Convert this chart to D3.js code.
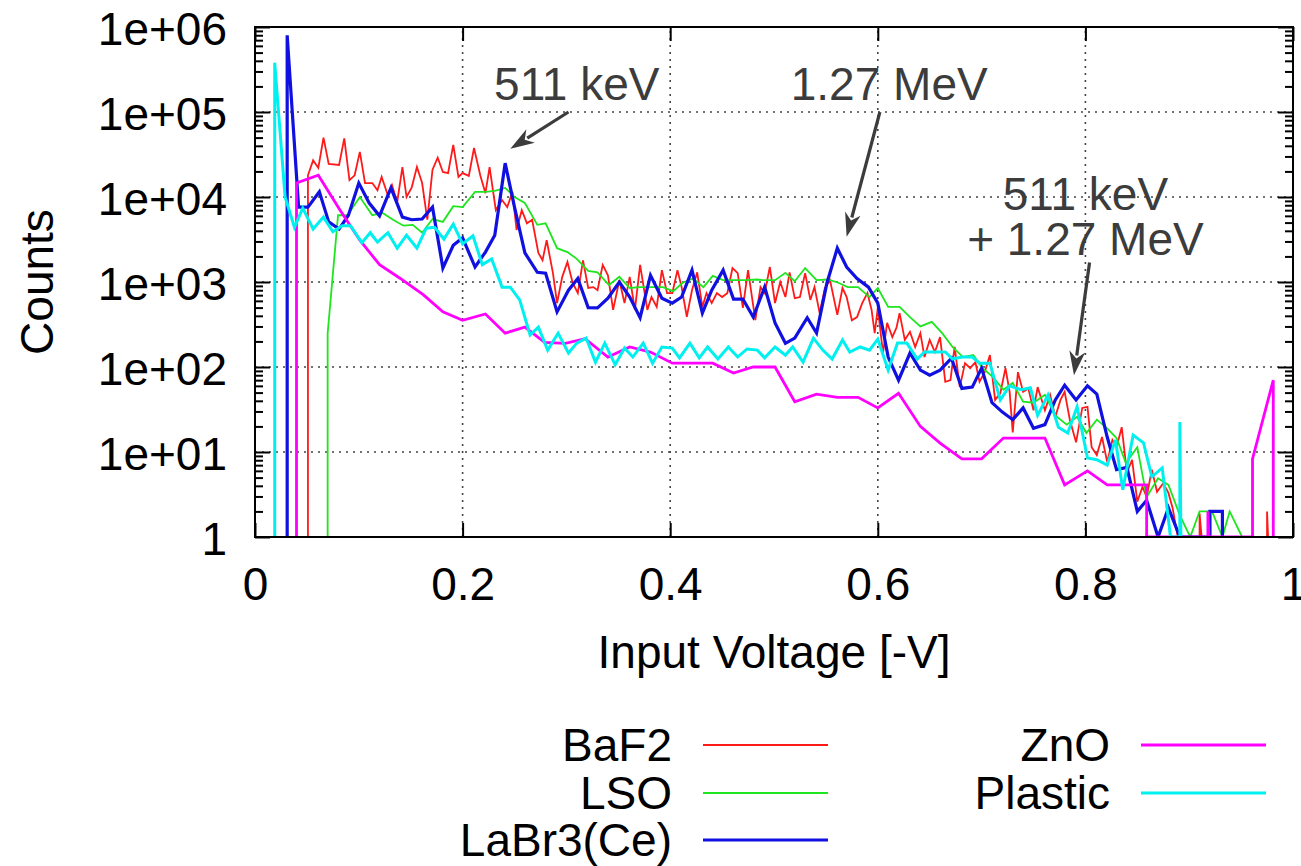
<!DOCTYPE html>
<html>
<head>
<meta charset="utf-8">
<script src="https://cdn.jsdelivr.net/npm/d3@7"></script>
<style>
  body { margin: 0; background: #fff; }
  svg text { font-family: "Liberation Sans", Arial, Helvetica, sans-serif; }
</style>
</head>
<body>
<svg id="chart" width="1301" height="866"></svg>
<script>
// [input voltage (-V), counts]
const baf2 = [[0.051,1],[0.051,18000],[0.056,27000],[0.061,22000],[0.066,50000],[0.071,24500],[0.081,23800],[0.086,49000],[0.091,15800],[0.096,18000],[0.101,34000],[0.106,14600],[0.113,14600],[0.118,12000],[0.122,17200],[0.128,10500],[0.132,13800],[0.137,8700],[0.142,22500],[0.146,10000],[0.151,13000],[0.156,22500],[0.161,14600],[0.166,5400],[0.171,21000],[0.176,29000],[0.181,19700],[0.186,19100],[0.191,41000],[0.196,17200],[0.200,19100],[0.206,17700],[0.211,37700],[0.217,18000],[0.222,11100],[0.226,22500],[0.232,7000],[0.238,9200],[0.243,7600],[0.248,11500],[0.252,4100],[0.257,7000],[0.262,4900],[0.267,5400],[0.273,2200],[0.277,1800],[0.281,3100],[0.287,1280],[0.291,565],[0.296,1150],[0.301,1720],[0.306,980],[0.311,740],[0.316,1800],[0.321,850],[0.326,870],[0.330,800],[0.335,1590],[0.340,1200],[0.345,470],[0.351,1050],[0.356,565],[0.361,1150],[0.366,470],[0.371,1590],[0.378,470],[0.382,665],[0.387,510],[0.392,1380],[0.397,740],[0.402,740],[0.407,1380],[0.411,870],[0.416,390],[0.421,800],[0.426,1300],[0.431,510],[0.435,740],[0.440,565],[0.445,740],[0.450,665],[0.455,740],[0.460,1460],[0.465,1270],[0.470,495],[0.475,1380],[0.482,355],[0.487,870],[0.491,740],[0.496,1500],[0.501,565],[0.506,1000],[0.511,665],[0.515,1300],[0.520,645],[0.525,665],[0.530,1270],[0.535,615],[0.539,870],[0.544,430],[0.549,850],[0.554,1050],[0.561,410],[0.566,850],[0.570,665],[0.575,355],[0.580,387],[0.585,565],[0.590,740],[0.594,470],[0.597,250],[0.600,495],[0.605,146],[0.609,330],[0.614,225],[0.618,290],[0.621,430],[0.626,208],[0.631,260],[0.636,172],[0.641,250],[0.645,131],[0.650,208],[0.655,150],[0.660,225],[0.665,67],[0.670,70],[0.674,172],[0.679,58],[0.684,111],[0.689,97],[0.694,114],[0.698,67],[0.703,87],[0.708,138],[0.713,41],[0.718,49],[0.723,97],[0.727,51],[0.730,17],[0.735,87],[0.740,51],[0.745,56],[0.750,31],[0.754,58],[0.761,31],[0.766,47],[0.771,26],[0.776,41],[0.780,51],[0.785,24],[0.791,13],[0.797,33],[0.802,34],[0.806,11.4],[0.811,9.2],[0.816,15],[0.821,7.6],[0.826,13.9],[0.830,11.4],[0.835,19.6],[0.840,5.7],[0.845,8.1],[0.850,2.6],[0.855,3.9],[0.859,2.95],[0.864,6.2],[0.869,3.4],[0.875,4.3],[0.880,3.3],[0.884,2.2],[0.889,1],[0.910,1],[0.910,1.9],[0.912,1],[0.975,1],[0.975,2],[0.976,1]];

const lso = [[0.070,1],[0.070,250],[0.080,6100],[0.089,6100],[0.101,10000],[0.113,6100],[0.123,6500],[0.133,5400],[0.143,4600],[0.152,4700],[0.161,3800],[0.171,5500],[0.181,5100],[0.191,7800],[0.200,7600],[0.212,11500],[0.222,11500],[0.231,11800],[0.241,12800],[0.250,10000],[0.260,8500],[0.272,4700],[0.280,4900],[0.291,2500],[0.301,2250],[0.310,1870],[0.321,1350],[0.330,1300],[0.341,920],[0.351,1150],[0.361,850],[0.371,870],[0.382,870],[0.393,870],[0.403,780],[0.412,980],[0.422,1100],[0.432,870],[0.441,1180],[0.451,1050],[0.461,1050],[0.472,1050],[0.484,1070],[0.489,1050],[0.501,1050],[0.511,1280],[0.520,1020],[0.530,1460],[0.541,1050],[0.552,1070],[0.562,980],[0.571,870],[0.581,870],[0.592,665],[0.600,850],[0.610,510],[0.621,510],[0.631,387],[0.641,300],[0.652,340],[0.662,250],[0.672,172],[0.682,131],[0.692,138],[0.701,97],[0.711,76],[0.721,54],[0.730,65],[0.740,39],[0.750,38],[0.761,47],[0.771,27],[0.782,21],[0.792,26],[0.801,16.7],[0.811,24],[0.821,19],[0.830,14.6],[0.839,7.4],[0.850,11.4],[0.859,2.95],[0.870,4.9],[0.880,4.1],[0.891,1.8],[0.901,1],[0.910,2],[0.922,2],[0.932,1],[0.939,2],[0.951,1]];

const labr3 = [[0.031,1],[0.031,800000],[0.042,7600],[0.051,7600],[0.062,11500],[0.071,5100],[0.081,4200],[0.090,6100],[0.100,14600],[0.110,8500],[0.120,6000],[0.131,12800],[0.142,5800],[0.151,5400],[0.161,5500],[0.171,7600],[0.181,1460],[0.191,2700],[0.200,3300],[0.212,1500],[0.222,2250],[0.231,3550],[0.241,25000],[0.250,7600],[0.260,2200],[0.272,1300],[0.280,1270],[0.291,445],[0.302,800],[0.311,1100],[0.321,500],[0.330,495],[0.340,645],[0.351,1000],[0.361,665],[0.371,380],[0.381,1200],[0.392,645],[0.402,565],[0.411,665],[0.421,1380],[0.431,430],[0.440,800],[0.451,1380],[0.461,630],[0.470,630],[0.480,387],[0.491,870],[0.501,330],[0.511,190],[0.520,219],[0.532,380],[0.541,251],[0.551,975],[0.561,2500],[0.570,1500],[0.580,1100],[0.591,870],[0.600,565],[0.610,131],[0.620,70],[0.631,146],[0.641,92],[0.650,80],[0.660,92],[0.671,127],[0.681,56],[0.691,58],[0.700,97],[0.710,38],[0.720,29.5],[0.730,24],[0.740,33],[0.750,19],[0.761,21],[0.771,41],[0.780,61],[0.791,41],[0.802,60],[0.811,48],[0.821,15],[0.830,6.2],[0.840,6.6],[0.850,2.0],[0.859,2.7],[0.870,1],[0.880,2.2],[0.891,1],[0.920,1],[0.920,2],[0.932,2],[0.932,1]];

const zno = [[0.040,1],[0.040,14600],[0.061,18000],[0.082,7000],[0.101,3100],[0.120,1600],[0.140,1100],[0.162,710],[0.181,445],[0.200,355],[0.222,420],[0.241,250],[0.260,295],[0.279,195],[0.299,190],[0.318,215],[0.340,131],[0.361,172],[0.381,150],[0.402,111],[0.422,111],[0.441,111],[0.461,85],[0.480,100],[0.501,100],[0.520,39],[0.541,48],[0.561,44],[0.581,44],[0.600,33],[0.620,49],[0.641,20],[0.660,12.7],[0.681,8.3],[0.700,8.3],[0.721,14.6],[0.761,14.6],[0.780,4.1],[0.802,6.0],[0.821,4.1],[0.859,4.1],[0.859,1],[0.918,1],[0.918,2],[0.919,1],[0.961,1],[0.961,8.3],[0.981,70],[0.981,1]];

const plastic = [[0.019,1],[0.019,380000],[0.029,10000],[0.038,4400],[0.046,7400],[0.056,4200],[0.066,5800],[0.075,3900],[0.084,4600],[0.092,4600],[0.103,2900],[0.111,3800],[0.118,2950],[0.128,3800],[0.137,2500],[0.146,3550],[0.156,2500],[0.165,4300],[0.173,4400],[0.182,3200],[0.191,4800],[0.200,2800],[0.210,3500],[0.219,1600],[0.228,1870],[0.238,870],[0.246,870],[0.255,615],[0.265,238],[0.273,295],[0.282,158],[0.292,250],[0.302,146],[0.310,191],[0.319,219],[0.328,114],[0.337,191],[0.347,106],[0.356,167],[0.364,131],[0.374,191],[0.383,111],[0.392,172],[0.402,167],[0.409,128],[0.419,191],[0.428,128],[0.436,172],[0.446,124],[0.456,172],[0.465,131],[0.474,163],[0.484,158],[0.491,128],[0.501,172],[0.511,138],[0.518,172],[0.528,114],[0.538,219],[0.547,158],[0.556,124],[0.566,208],[0.573,150],[0.583,172],[0.592,158],[0.600,213],[0.610,92],[0.619,191],[0.628,191],[0.638,124],[0.645,150],[0.655,150],[0.665,150],[0.672,124],[0.681,131],[0.691,131],[0.698,111],[0.708,111],[0.718,41],[0.727,60],[0.738,54],[0.747,57],[0.754,27],[0.764,47],[0.774,19.6],[0.783,16.7],[0.792,34],[0.802,8.5],[0.811,8.1],[0.821,7.0],[0.829,13.9],[0.836,3.6],[0.846,15.8],[0.856,12.8],[0.864,5.1],[0.874,6.5],[0.882,1],[0.891,1],[0.891,22.5],[0.892,1]];

const seriesNames = ["BaF2", "LSO", "LaBr3(Ce)", "ZnO", "Plastic"];
const seriesData = [baf2, lso, labr3, zno, plastic];
const seriesColors = ["#ff1a1a", "#1ee61e", "#1010e0", "#ff00ff", "#00f0f0"];
const seriesWidths = [1.8, 1.8, 3.2, 2.8, 3];

const xTicks = [0, 0.2, 0.4, 0.6, 0.8, 1];
const yTicks = [1, 10, 100, 1000, 10000, 100000, 1000000];
const yTickLabels = ["1", "1e+01", "1e+02", "1e+03", "1e+04", "1e+05", "1e+06"];

// annotation text (baseline point) and arrow [from, to], data coordinates
const notes = [
  { lines: ["511 keV"], at: [0.310, 140000], from: [0.302, 100000], to: [0.246, 37000] },
  { lines: ["1.27 MeV"], at: [0.611, 140000], from: [0.602, 100000], to: [0.570, 3400] },
  { lines: ["511 keV", "+ 1.27 MeV"], at: [0.800, 7000], from: [0.804, 1700], to: [0.789, 80] }
];

const svg = d3.select("#chart");
const fontSize = 46;
const x = d3.scaleLinear().domain([0, 1]).range([255, 1293]);
const y = d3.scaleLog().domain([1, 1e6]).range([537, 27]);

// grid
const grid = svg.append("g").attr("stroke", "#444").attr("stroke-width", 1.6).attr("stroke-dasharray", "2,5");
grid.selectAll(".gx").data(xTicks.slice(1, -1)).join("line")
  .attr("x1", d => x(d)).attr("x2", d => x(d)).attr("y1", y(1)).attr("y2", y(1e6));
grid.selectAll(".gy").data(yTicks.slice(1, -1)).join("line")
  .attr("y1", d => y(d)).attr("y2", d => y(d)).attr("x1", x(0)).attr("x2", x(1));

// series
svg.append("clipPath").attr("id", "plotclip").append("rect")
  .attr("x", x(0)).attr("y", y(1e6)).attr("width", x(1) - x(0)).attr("height", y(1) - y(1e6) + 1);
const line = d3.line().x(d => x(d[0])).y(d => y(Math.max(1, d[1])));
svg.append("g").attr("clip-path", "url(#plotclip)")
  .selectAll("path").data(seriesData).join("path")
  .attr("d", line)
  .attr("fill", "none")
  .attr("stroke", (d, i) => seriesColors[i])
  .attr("stroke-width", (d, i) => seriesWidths[i])
  .attr("stroke-linejoin", "miter");

// axes (gnuplot style, ticks pointing inward, mirrored)
const minorY = [];
for (let e = 0; e < 6; e++) for (let m = 2; m <= 9; m++) minorY.push(m * Math.pow(10, e));

function styleAxis(g) {
  g.select(".domain").remove();
  g.selectAll(".tick line").attr("stroke", "#000").attr("stroke-width", 2);
  g.selectAll("text").attr("fill", "#000").attr("font-size", fontSize);
}

svg.append("g").attr("transform", `translate(0,${y(1)})`)
  .call(d3.axisBottom(x).tickValues(xTicks).tickFormat(d3.format("")).tickSizeInner(-14).tickSizeOuter(0).tickPadding(0))
  .call(styleAxis)
  .call(g => g.selectAll("text").attr("y", 63).attr("dy", null));

svg.append("g").attr("transform", `translate(0,${y(1e6)})`)
  .call(d3.axisTop(x).tickValues(xTicks).tickFormat("").tickSizeInner(-14).tickSizeOuter(0))
  .call(styleAxis);

svg.append("g").attr("transform", `translate(${x(0)},0)`)
  .call(d3.axisLeft(y).tickValues(yTicks).tickFormat((d, i) => yTickLabels[i]).tickSizeInner(-15).tickSizeOuter(0).tickPadding(28))
  .call(styleAxis)
  .call(g => g.selectAll("text").attr("dy", "0.37em"));

svg.append("g").attr("transform", `translate(${x(0)},0)`)
  .call(d3.axisLeft(y).tickValues(minorY).tickFormat("").tickSizeInner(-8).tickSizeOuter(0))
  .call(styleAxis);

svg.append("g").attr("transform", `translate(${x(1)},0)`)
  .call(d3.axisRight(y).tickValues(yTicks).tickFormat("").tickSizeInner(-15).tickSizeOuter(0))
  .call(styleAxis);

svg.append("g").attr("transform", `translate(${x(1)},0)`)
  .call(d3.axisRight(y).tickValues(minorY).tickFormat("").tickSizeInner(-8).tickSizeOuter(0))
  .call(styleAxis);

// border
svg.append("rect")
  .attr("x", x(0)).attr("y", y(1e6)).attr("width", x(1) - x(0)).attr("height", y(1) - y(1e6))
  .attr("fill", "none").attr("stroke", "#000").attr("stroke-width", 2);

// axis titles
svg.append("text")
  .attr("transform", `translate(53,${(y(1) + y(1e6)) / 2}) rotate(-90)`)
  .attr("text-anchor", "middle").attr("font-size", fontSize).attr("fill", "#000")
  .text("Counts");
svg.append("text")
  .attr("x", (x(0) + x(1)) / 2).attr("y", 668)
  .attr("text-anchor", "middle").attr("font-size", fontSize).attr("fill", "#000")
  .text("Input Voltage [-V]");

// annotations
const noteColor = "#3c3c3c";
notes.forEach(n => {
  const t = svg.append("text")
    .attr("text-anchor", "middle").attr("font-size", fontSize).attr("fill", noteColor);
  n.lines.forEach((s, i) => {
    t.append("tspan").attr("x", x(n.at[0])).attr("y", y(n.at[1]) + i * 45).text(s);
  });
  const x1 = x(n.from[0]), y1 = y(n.from[1]), x2 = x(n.to[0]), y2 = y(n.to[1]);
  const ang = Math.atan2(y2 - y1, x2 - x1);
  const hl = 24, hw = 8;
  const bx = x2 - hl * Math.cos(ang), by = y2 - hl * Math.sin(ang);
  svg.append("line")
    .attr("x1", x1).attr("y1", y1)
    .attr("x2", x2 - (hl - 4) * Math.cos(ang)).attr("y2", y2 - (hl - 4) * Math.sin(ang))
    .attr("stroke", noteColor).attr("stroke-width", 3.2);
  const nx = -Math.sin(ang), ny = Math.cos(ang);
  const ix = x2 - (hl - 7) * Math.cos(ang), iy = y2 - (hl - 7) * Math.sin(ang);
  svg.append("path")
    .attr("d", `M${x2},${y2}L${bx + nx * hw},${by + ny * hw}L${ix},${iy}L${bx - nx * hw},${by - ny * hw}Z`)
    .attr("fill", noteColor);
});

// legend
const legendX = [672, 1110];
const legendRowY = [745, 793, 840];
const legend = svg.append("g").attr("font-size", fontSize);
seriesNames.forEach((name, i) => {
  const col = i < 3 ? 0 : 1;
  const row = i < 3 ? i : i - 3;
  const ly = legendRowY[row];
  legend.append("text")
    .attr("x", legendX[col]).attr("y", ly + 16)
    .attr("text-anchor", "end").attr("fill", "#000")
    .text(name);
  legend.append("line")
    .attr("x1", legendX[col] + 31).attr("x2", legendX[col] + 156)
    .attr("y1", ly).attr("y2", ly)
    .attr("stroke", seriesColors[i]).attr("stroke-width", seriesWidths[i]);
});
</script>
</body>
</html>
